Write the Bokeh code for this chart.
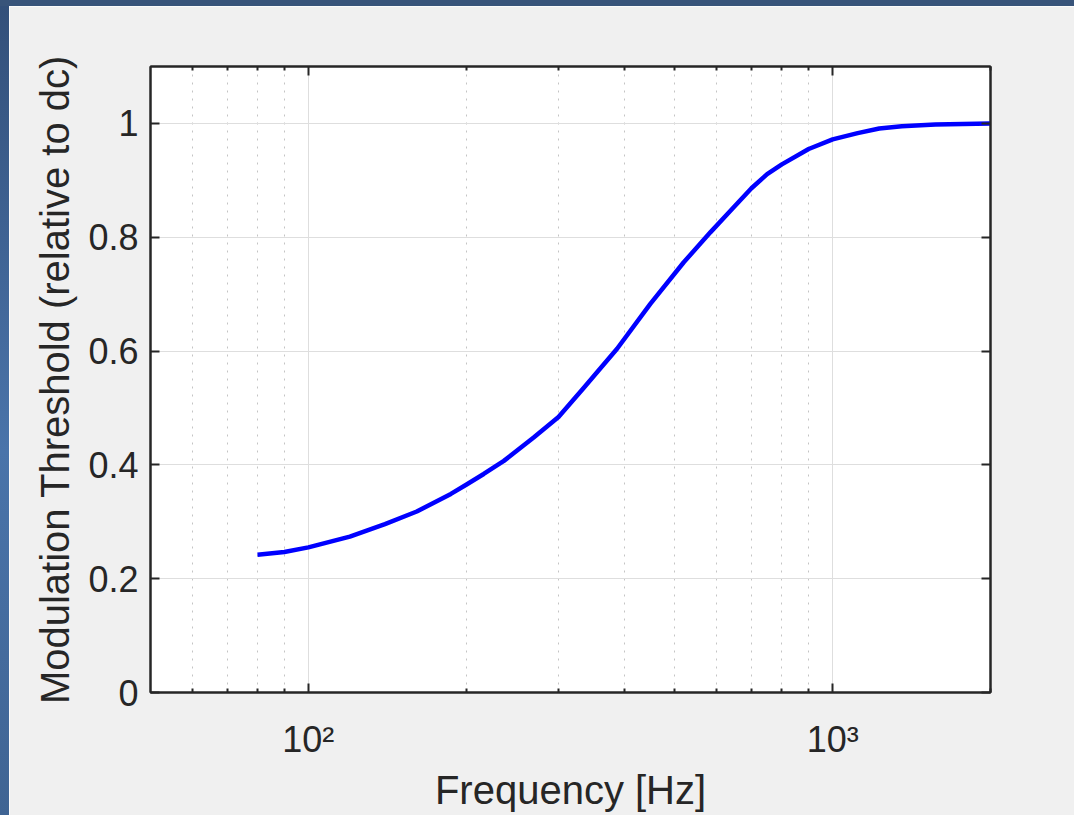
from bokeh.plotting import figure
from bokeh.models import FixedTicker, LogAxis, LinearAxis, Range1d, Div
from bokeh.layouts import column, row
from bokeh.embed import file_html
from bokeh.resources import INLINE

# ---- data ----
freq_hz = [80, 90, 100, 120, 140, 161, 187, 200, 216, 236, 269, 300, 335,
           388, 449, 520, 585, 639, 700, 750, 800, 900, 1000, 1116, 1227,
           1355, 1570, 2000]
threshold = [0.242, 0.247, 0.255, 0.274, 0.296, 0.318, 0.349, 0.365, 0.384,
             0.407, 0.448, 0.484, 0.535, 0.604, 0.683, 0.756, 0.809, 0.847,
             0.886, 0.911, 0.928, 0.955, 0.972, 0.983, 0.991, 0.995, 0.998,
             1.000]

x_major_ticks = [100, 1000]
x_major_labels = ["10²", "10³"]
x_minor_ticks = [60, 70, 80, 90, 200, 300, 400, 500, 600, 700, 800, 900, 2000]
y_ticks = [0, 0.2, 0.4, 0.6, 0.8, 1.0]
y_labels = ["0", "0.2", "0.4", "0.6", "0.8", "1"]

x_label = "Frequency [Hz]"
y_label = "Modulation Threshold (relative to dc)"

FONT = "Liberation Sans"
INK = "#262626"

p = figure(width=1065, height=809, x_axis_type="log",
           x_range=Range1d(50, 2000), y_range=Range1d(0, 1.1),
           output_backend="svg", toolbar_location=None,
           min_border_left=141, min_border_top=60,
           min_border_right=84, min_border_bottom=123)
p.border_fill_color = "#f0f0f0"
p.background_fill_color = "white"
p.outline_line_color = INK
p.outline_line_width = 2

xt = FixedTicker(ticks=x_major_ticks, minor_ticks=x_minor_ticks)
yt = FixedTicker(ticks=y_ticks)

p.xaxis.ticker = xt
p.xaxis.major_label_overrides = dict(zip(x_major_ticks, x_major_labels))
p.yaxis.ticker = yt
p.yaxis.major_label_overrides = dict(zip(y_ticks, y_labels))

p.xaxis.axis_label = x_label
p.yaxis.axis_label = y_label

def style_axis(ax, minor=True):
    ax.axis_line_color = INK
    ax.axis_line_width = 2
    ax.major_tick_line_color = INK
    ax.major_tick_line_width = 2
    ax.major_tick_in = 9
    ax.major_tick_out = 0
    if minor:
        ax.minor_tick_line_color = INK
        ax.minor_tick_line_width = 2
        ax.minor_tick_in = 4
        ax.minor_tick_out = 0
    else:
        ax.minor_tick_line_color = None
    ax.major_label_text_font = FONT
    ax.major_label_text_font_size = "36px"
    ax.major_label_text_color = INK
    ax.major_label_text_line_height = 1.0
    ax.axis_label_text_font = FONT
    ax.axis_label_text_font_size = "40px"
    ax.axis_label_text_font_style = "normal"
    ax.axis_label_text_color = INK
    ax.axis_label_text_line_height = 1.0

for ax in p.xaxis:
    style_axis(ax, True)
    ax.major_label_standoff = 26
    ax.axis_label_standoff = 5
for ax in p.yaxis:
    style_axis(ax, False)
    ax.major_label_standoff = 12
    ax.axis_label_standoff = 8

top_ax = LogAxis(ticker=xt)
style_axis(top_ax, True)
top_ax.major_label_text_alpha = 0
top_ax.major_label_standoff = 0
p.add_layout(top_ax, "above")

right_ax = LinearAxis(ticker=yt)
style_axis(right_ax, False)
right_ax.major_label_text_alpha = 0
right_ax.major_label_standoff = 0
p.add_layout(right_ax, "right")

p.xgrid.ticker = xt
p.xgrid.grid_line_color = "#dedede"
p.xgrid.grid_line_width = 1
p.xgrid.minor_grid_line_color = "#c4c4c4"
p.xgrid.minor_grid_line_width = 1
p.xgrid.minor_grid_line_dash = "2 6"
p.ygrid.ticker = yt
p.ygrid.grid_line_color = "#dedede"
p.ygrid.grid_line_width = 1

p.line(freq_hz, threshold, line_color="#0000ff", line_width=4.5,
       line_join="round")

top_bar = Div(text="", width=1074, height=6, margin=0,
              styles={"background-color": "#38547a"})
left_bar = Div(text="", width=9, height=809, margin=0,
               styles={"background": "linear-gradient(#33507a, #4a74aa 55%, #3f6493)"})
page = column(top_bar, row(left_bar, p, spacing=0), spacing=0)

open("out.html", "w").write(file_html(page, INLINE))
